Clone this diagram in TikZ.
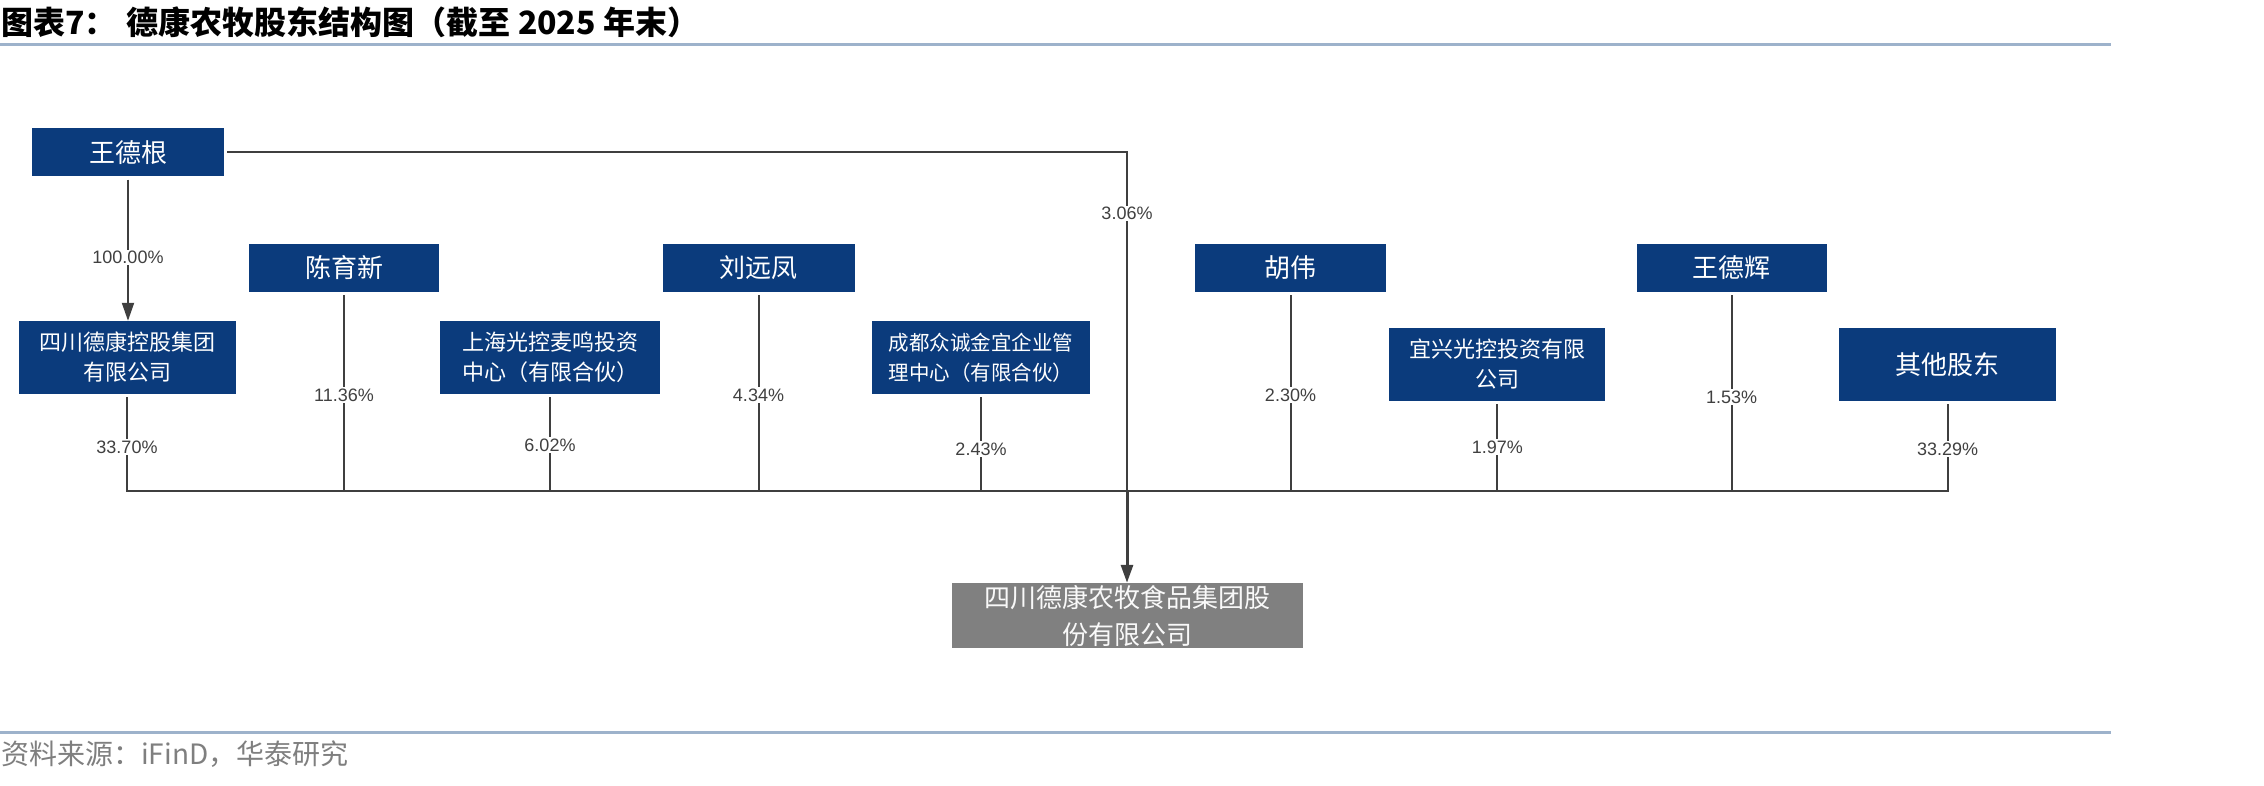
\documentclass[tikz,border=0pt]{standalone}
\usepackage{fontspec}
\setmainfont{Noto Sans CJK SC}
\newfontfamily\labfont{Liberation Sans}
\usetikzlibrary{arrows.meta}
\definecolor{navy}{HTML}{0B3B7C}
\definecolor{tgtgray}{HTML}{808080}
\definecolor{linec}{HTML}{3F3F3F}
\definecolor{labc}{HTML}{404040}
\definecolor{rulec}{HTML}{9DB2CB}
\definecolor{srcc}{HTML}{7F7F7F}
\begin{document}
\begin{tikzpicture}[x=1pt,y=-1pt,
  box/.style={fill=navy, text=white, minimum height=48pt, inner sep=0pt, font=\fontsize{26}{30}\selectfont},
  boxtwo/.style={fill=navy, text=white, minimum height=73pt, inner sep=0pt, align=center, font=\fontsize{22}{30}\selectfont},
  tgtbox/.style={fill=tgtgray, text=white!95!gray, minimum height=65pt, minimum width=351pt, inner sep=0pt, align=center, font=\fontsize{26}{37}\selectfont},
  conn/.style={draw=linec, line width=2pt},
  pct/.style={fill=white, text=labc, inner sep=1.5pt, font=\labfont\fontsize{18}{20}\selectfont},
  rulel/.style={draw=rulec, line width=3pt},
  tip/.style={-{Triangle[length=18pt,width=12pt]}}
]
\useasboundingbox (0,0) rectangle (2264,786);

% title and source
\node[anchor=west, inner sep=0pt, font=\bfseries\fontsize{32}{36}\selectfont] (title) at (1,22) {图表7：\hspace{10pt}德康农牧股东结构图（截至 2025 年末）};
\draw[rulel] (0,45) -- (2111,45);
\draw[rulel] (0,732) -- (2111,732);
\node[anchor=west, inner sep=0pt, text=srcc, font=\fontsize{28}{32}\selectfont] (src) at (1,754) {资料来源：iFinD，华泰研究};

% boxes
\node[box, minimum width=192pt] (wdg) at (128,152.5) {王德根};
\node[boxtwo, minimum width=217pt] (skg) at (127,357.5) {四川德康控股集团\\有限公司};
\node[box, minimum width=190pt] (cyx) at (344,268) {陈育新};
\node[boxtwo, minimum width=220pt] (shgk) at (550,357.5) {上海光控麦鸣投资\\中心（有限合伙）};
\node[box, minimum width=192pt] (lyf) at (758.5,268) {刘远凤};
\node[boxtwo, minimum width=218pt, font=\fontsize{20.5}{30}\selectfont] (cd) at (981,357.5) {成都众诚金宜企业管\\理中心（有限合伙）};
\node[box, minimum width=191pt] (hw) at (1290.5,268) {胡伟};
\node[boxtwo, minimum width=216pt] (yx) at (1497.4,364.5) {宜兴光控投资有限\\公司};
\node[box, minimum width=190pt] (wdh) at (1731.5,268) {王德辉};
\node[boxtwo, minimum width=217pt, font=\fontsize{26}{30}\selectfont] (qt) at (1947.5,364.5) {其他股东};
\node[tgtbox] (tgt) at (1127,615.5) {四川德康农牧食品集团股\\份有限公司};

% coordinates
\coordinate (j) at (1127,152.5);
\coordinate (hub) at (1127,491);

% connectors
\draw[conn, tip, shorten <=3pt] (wdg.south) -- node[pct, pos=0.56]{100.00\%} (wdg.south |- skg.north);
\draw[conn, shorten <=3pt] (wdg.east) -- (j) -- node[pct, pos=0.18]{3.06\%} (hub);

\draw[conn, shorten <=3pt] (skg.south) -- node[pct, pos=0.546]{33.70\%} (skg.south |- hub);
\draw[conn, shorten <=3pt] (cyx.south) -- node[pct, pos=0.518]{11.36\%} (cyx.south |- hub);
\draw[conn, shorten <=3pt] (shgk.south) -- node[pct, pos=0.526]{6.02\%} (shgk.south |- hub);
\draw[conn, shorten <=3pt] (lyf.south) -- node[pct, pos=0.518]{4.34\%} (lyf.south |- hub);
\draw[conn, shorten <=3pt] (cd.south) -- node[pct, pos=0.567]{2.43\%} (cd.south |- hub);
\draw[conn, shorten <=3pt] (hw.south) -- node[pct, pos=0.518]{2.30\%} (hw.south |- hub);
\draw[conn, shorten <=3pt] (yx.south) -- node[pct, pos=0.511]{1.97\%} (yx.south |- hub);
\draw[conn, shorten <=3pt] (wdh.south) -- node[pct, pos=0.528]{1.53\%} (wdh.south |- hub);
\draw[conn, shorten <=3pt] (qt.south) -- node[pct, pos=0.533]{33.29\%} (qt.south |- hub);

\draw[conn, line cap=rect] (skg.south |- hub) -- (qt.south |- hub);
\draw[draw=linec, line width=3pt, tip] (hub) -- (tgt.north);
\end{tikzpicture}
\end{document}
